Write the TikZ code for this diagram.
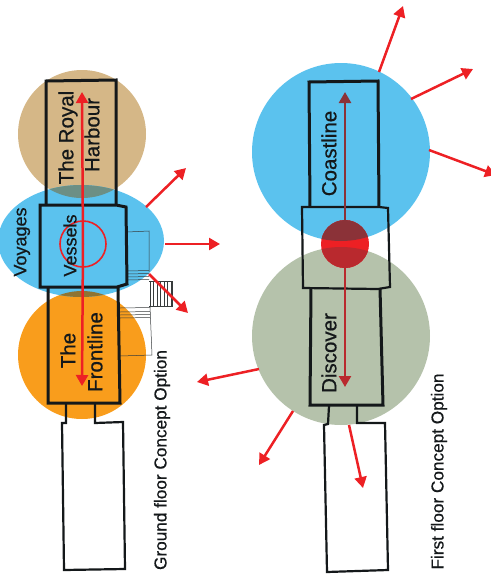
\documentclass[tikz,border=0pt]{standalone}
\usepackage{fontspec}
\setmainfont{Liberation Sans}
\newfontfamily\labelfont[FakeBold=0.6]{Liberation Sans}
\usepackage{xcolor}
\usetikzlibrary{arrows.meta}
\definecolor{tanzone}{HTML}{D5B787}
\definecolor{bluezone}{HTML}{5BC2EE}
\definecolor{orangezone}{HTML}{F99D1C}
\definecolor{greenzone}{HTML}{B5C2AB}
\definecolor{tealmix}{HTML}{6C8F85}
\definecolor{brownmix}{HTML}{8F7433}
\definecolor{redline}{HTML}{ED2024}
\definecolor{redonblue}{HTML}{8B3238}
\definecolor{redongreen}{HTML}{B9292E}
\definecolor{wall}{HTML}{14181A}
\begin{document}
\begin{tikzpicture}
    [%%%%%%%%%%%%%%%%%%%%%%%%%%%%%%
        x=1pt,y=-1pt,
        heavywall/.style={draw=wall,line width=3pt,line join=miter},
        midwall/.style={draw=wall,line width=2.2pt,line join=miter},
        stairline/.style={draw=wall!85,line width=0.5pt},
        flow/.style={-{Triangle[length=11pt,width=12pt]},draw=redline,fill=redline,line width=2.5pt},
        zonelabel/.style={rotate=90,font=\labelfont\fontsize{20.5}{24}\selectfont,text=wall,inner sep=0pt},
        smalllabel/.style={rotate=90,font=\labelfont\fontsize{18}{22}\selectfont,text=wall,inner sep=0pt},
        caption/.style={rotate=90,font=\labelfont\fontsize{17.2}{20}\selectfont,text=wall,inner sep=0pt}
    ]%%%%%%%%%%%%%%%%%%%%%%%%%%%%%%
\useasboundingbox (0,0) rectangle (490,581);

% ground floor zones
\fill[tanzone] (82,134) circle (64);
\fill[orangezone] (82,355) circle (64);
\fill[bluezone] (81,241) ellipse (83 and 56);
\begin{scope}
    \clip (82,134) circle (64);
    \fill[tealmix] (81,241) ellipse (83 and 56);
\end{scope}
\begin{scope}
    \clip (82,355) circle (64);
    \fill[brownmix] (81,241) ellipse (83 and 56);
\end{scope}

% first floor zones
\fill[bluezone] (341,152) circle (89);
\fill[greenzone] (341,336) circle (89);

% ground floor stairs
\draw[stairline] (127,232) -- (149,231) -- (149,272);
\foreach \y in {271,274,277,280}{
    \draw[stairline] (127,\y) -- (149,\y-0.5);
}
\draw[stairline] (149,281) -- (172,281) -- (172,306) -- (149,306);
\foreach \x in {150,153.5,...,171}{
    \draw[stairline] (\x,281) -- (\x,306);
}
\foreach \y in {308,312,315,318}{
    \draw[stairline] (120,\y) -- (150,\y-0.5);
}
\draw[stairline] (150,306) -- (152,355) -- (120,356);

% ground floor plan
\draw[heavywall] (46,205) -- (46,81) -- (116,80) -- (116,205);
\draw[heavywall] (40,205) -- (116,205) -- (126,207) -- (127,284) -- (117,287) -- (40,287) -- cycle;
\draw[heavywall] (48,288) -- (48,403) -- (120,403) -- (118,288);
\draw[midwall] (66,404) -- (66,423) -- (62,423) -- (64,570) -- (125,569) -- (123,422) -- (95,423) -- (95,404);

% first floor plan
\draw[heavywall] (310,207) -- (309,82) -- (378,81) -- (379,207);
\draw[midwall] (302,207) -- (379,207) -- (388,208) -- (390,287) -- (378,289) -- (303,288) -- cycle;
\draw[heavywall] (311,288) -- (310,405) -- (383,405) -- (380,288);
\draw[midwall] (329,406) -- (328,424) -- (324,425) -- (327,572) -- (388,570) -- (385,423) -- (357,423) -- (357,406);

% ground floor flows
\coordinate (royaltip) at (82,92);
\coordinate (frontlinetip) at (82,386);
\coordinate (vesselshub) at (83,244);
\draw[flow] (vesselshub) -- (royaltip);
\draw[flow] (vesselshub) -- (frontlinetip);
\node[draw=redline,line width=1.6pt,circle,minimum size=46pt,inner sep=0pt] (vesselsring) at (vesselshub) {};
\foreach \a/\b/\c/\d in {146/207/186/168, 165/244/220/244, 149/274/188/313}{
    \coordinate (from) at (\a,\b);
    \coordinate (to) at (\c,\d);
    \draw[flow] (from) -- (to);
}

% first floor flows
\foreach \a/\b/\c/\d in {379/72/403/6, 411/99/473/69, 429/150/496/175, 259/369/197/382, 293/411/259/465, 349/425/363/488}{
    \coordinate (from) at (\a,\b);
    \coordinate (to) at (\c,\d);
    \draw[flow] (from) -- (to);
}
\coordinate (coasttip) at (345,92);
\coordinate (discovertip) at (345,387);
\coordinate (hub) at (345,244);
\draw[flow,draw=redonblue,fill=redonblue] (hub) -- (coasttip);
\draw[flow,draw=redongreen,fill=redongreen] (hub) -- (discovertip);
\fill[redline] (hub) circle (24);
\begin{scope}
    \clip (hub) circle (24);
    \fill[redonblue] (341,152) circle (89);
    \fill[redongreen] (341,336) circle (89);
\end{scope}

% labels
\node[zonelabel] (royal) at (68,137.5) {The Royal};
\node[zonelabel] (harbour) at (92,135) {Harbour};
\node[smalllabel] (voyages) at (22,242) {Voyages};
\node[smalllabel] (vessels) at (70,245.5) {Vessels};
\node[zonelabel] (the) at (68,350.5) {The};
\node[zonelabel] (frontline) at (95,352) {Frontline};
\node[zonelabel] (coastline) at (329,153.5) {Coastline};
\node[zonelabel] (discover) at (329,353) {Discover};
\node[caption] (groundcaption) at (162,460) {Ground floor Concept Option};
\node[caption] (firstcaption) at (439,471.5) {First floor Concept Option};

\end{tikzpicture}
\end{document}
